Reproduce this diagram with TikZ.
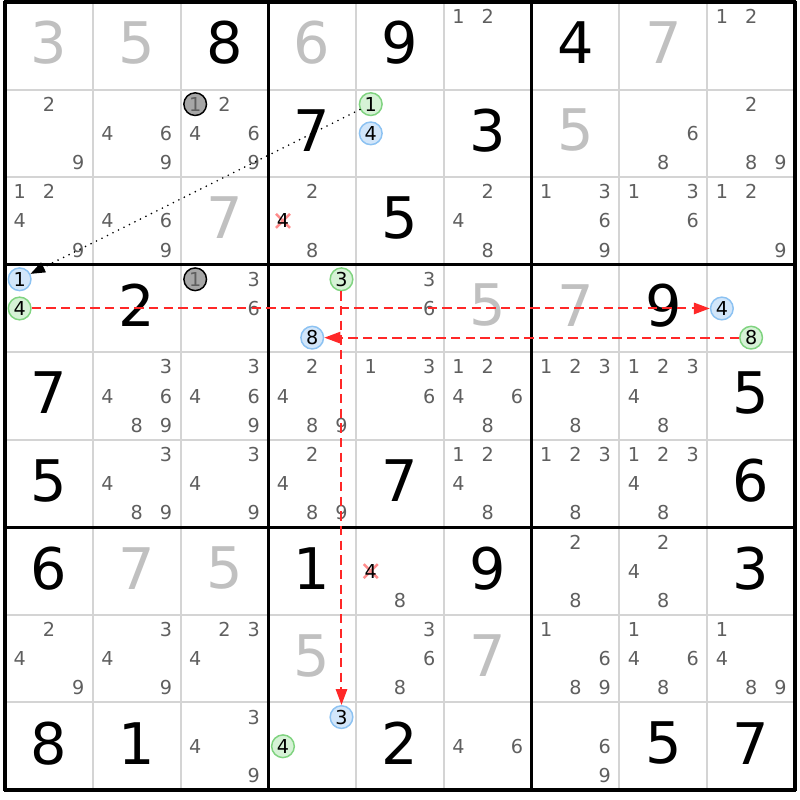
\documentclass[tikz,border=0pt]{standalone}
\usepackage{fontspec}
\setmainfont{DejaVu Sans}
\usetikzlibrary{arrows.meta}
\definecolor{placedc}{HTML}{C0C0C0}
\definecolor{candc}{HTML}{5F5F5F}
\definecolor{thinc}{HTML}{D4D4D4}
\definecolor{gfill}{HTML}{D6F2D6}
\definecolor{gline}{HTML}{7FD37F}
\definecolor{bfill}{HTML}{D2E6FA}
\definecolor{bline}{HTML}{8CC2F2}
\definecolor{kfill}{HTML}{A6A6A6}
\definecolor{xcol}{HTML}{FF8C8C}
\definecolor{chainc}{HTML}{FF2828}
\pgfdeclarelayer{bg}
\pgfsetlayers{bg,main}
\tikzset{
  bigdig/.style={font=\fontsize{43}{43}\selectfont, inner sep=0pt, text=black},
  placeddig/.style={bigdig, text=placedc},
  cand/.style={font=\fontsize{14.4}{14.4}\selectfont, inner sep=0pt, text=candc},
  gcirc/.style={cand, circle, draw=gline, fill=gfill, line width=1.1pt, text=black, minimum size=17pt},
  bcirc/.style={cand, circle, draw=bline, fill=bfill, line width=1.1pt, text=black, minimum size=17pt},
  kcirc/.style={cand, circle, draw=black, fill=kfill, line width=1.1pt, text=candc, minimum size=17pt},
  xcand/.style={cand, text=black},
  crossx/.style={draw=xcol, line width=1.8pt},
  thinline/.style={draw=thinc, line width=1.5pt},
  thickline/.style={draw=black, line width=2.4pt},
  chainarr/.style={draw=chainc, line width=1.5pt, dash pattern=on 7pt off 4pt,
    -{Triangle[length=12pt,width=8.5pt]}},
  linkdot/.style={draw=black, line width=1.4pt, line cap=round, dash pattern=on 0pt off 4.6pt,
    -{Triangle[length=11pt,width=8pt]}}
}
\newcommand\sdBig[4]{\node[#1] (r#2c#3) at ({5+(#3-0.5)*87.78},{2+(#2-0.5)*87.56-3}) {#4};}
\newcommand\sdCand[4][cand]{\node[#1] (r#2c#3n#4) at ({5+(#3-1)*87.78+(2*mod(#4-1,3)+1)*87.78/6},{2+(#2-1)*87.56+(2*int((#4-1)/3)+1)*87.56/6}) {#4};}
\newcommand\sdCands[3]{\foreach \dd in {#3}{\sdCand{#1}{#2}{\dd}}}
\begin{document}
\begin{tikzpicture}[x=0.75pt,y=-0.75pt]
\useasboundingbox (0,0) rectangle (800,800);
% grid
\foreach \i in {1,2,4,5,7,8}{
  \draw[thinline] ({5+\i*87.78},2) -- ({5+\i*87.78},790);
  \draw[thinline] (5,{2+\i*87.56}) -- (795,{2+\i*87.56});
}
\foreach \i in {0,3,6,9}{
  \draw[thickline] ({5+\i*87.78},0.8) -- ({5+\i*87.78},791.2);
  \draw[thickline] (3.8,{2+\i*87.56}) -- (796.2,{2+\i*87.56});
}
% givens
\sdBig{bigdig}{1}{3}{8}
\sdBig{bigdig}{1}{5}{9}
\sdBig{bigdig}{1}{7}{4}
\sdBig{bigdig}{2}{4}{7}
\sdBig{bigdig}{2}{6}{3}
\sdBig{bigdig}{3}{5}{5}
\sdBig{bigdig}{4}{2}{2}
\sdBig{bigdig}{4}{8}{9}
\sdBig{bigdig}{5}{1}{7}
\sdBig{bigdig}{5}{9}{5}
\sdBig{bigdig}{6}{1}{5}
\sdBig{bigdig}{6}{5}{7}
\sdBig{bigdig}{6}{9}{6}
\sdBig{bigdig}{7}{1}{6}
\sdBig{bigdig}{7}{4}{1}
\sdBig{bigdig}{7}{6}{9}
\sdBig{bigdig}{7}{9}{3}
\sdBig{bigdig}{9}{1}{8}
\sdBig{bigdig}{9}{2}{1}
\sdBig{bigdig}{9}{5}{2}
\sdBig{bigdig}{9}{8}{5}
\sdBig{bigdig}{9}{9}{7}
% placed
\sdBig{placeddig}{1}{1}{3}
\sdBig{placeddig}{1}{2}{5}
\sdBig{placeddig}{1}{4}{6}
\sdBig{placeddig}{1}{8}{7}
\sdBig{placeddig}{2}{7}{5}
\sdBig{placeddig}{3}{3}{7}
\sdBig{placeddig}{4}{6}{5}
\sdBig{placeddig}{4}{7}{7}
\sdBig{placeddig}{7}{2}{7}
\sdBig{placeddig}{7}{3}{5}
\sdBig{placeddig}{8}{4}{5}
\sdBig{placeddig}{8}{6}{7}
% candidates
\sdCands{1}{6}{1,2}
\sdCands{1}{9}{1,2}
\sdCands{2}{1}{2,9}
\sdCands{2}{2}{4,6,9}
\sdCand[kcirc]{2}{3}{1}
\sdCands{2}{3}{2,4,6,9}
\sdCand[gcirc]{2}{5}{1}
\sdCand[bcirc]{2}{5}{4}
\sdCands{2}{8}{6,8}
\sdCands{2}{9}{2,8,9}
\sdCands{3}{1}{1,2,4,9}
\sdCands{3}{2}{4,6,9}
\sdCands{3}{4}{2,8}
\sdCand[xcand]{3}{4}{4}
\sdCands{3}{6}{2,4,8}
\sdCands{3}{7}{1,3,6,9}
\sdCands{3}{8}{1,3,6}
\sdCands{3}{9}{1,2,9}
\sdCand[bcirc]{4}{1}{1}
\sdCand[gcirc]{4}{1}{4}
\sdCand[kcirc]{4}{3}{1}
\sdCands{4}{3}{3,6}
\sdCand[gcirc]{4}{4}{3}
\sdCand[bcirc]{4}{4}{8}
\sdCands{4}{5}{3,6}
\sdCand[bcirc]{4}{9}{4}
\sdCand[gcirc]{4}{9}{8}
\sdCands{5}{2}{3,4,6,8,9}
\sdCands{5}{3}{3,4,6,9}
\sdCands{5}{4}{2,4,8,9}
\sdCands{5}{5}{1,3,6}
\sdCands{5}{6}{1,2,4,6,8}
\sdCands{5}{7}{1,2,3,8}
\sdCands{5}{8}{1,2,3,4,8}
\sdCands{6}{2}{3,4,8,9}
\sdCands{6}{3}{3,4,9}
\sdCands{6}{4}{2,4,8,9}
\sdCands{6}{6}{1,2,4,8}
\sdCands{6}{7}{1,2,3,8}
\sdCands{6}{8}{1,2,3,4,8}
\sdCand[xcand]{7}{5}{4}
\sdCands{7}{5}{8}
\sdCands{7}{7}{2,8}
\sdCands{7}{8}{2,4,8}
\sdCands{8}{1}{2,4,9}
\sdCands{8}{2}{3,4,9}
\sdCands{8}{3}{2,3,4}
\sdCands{8}{5}{3,6,8}
\sdCands{8}{7}{1,6,8,9}
\sdCands{8}{8}{1,4,6,8}
\sdCands{8}{9}{1,4,8,9}
\sdCands{9}{3}{3,4,9}
\sdCand[bcirc]{9}{4}{3}
\sdCand[gcirc]{9}{4}{4}
\sdCands{9}{6}{4,6}
\sdCands{9}{7}{6,9}
% crosses (behind the crossed digits)
\begin{pgfonlayer}{bg}
\fill[white] (0,0) rectangle (800,800);
\draw[crossx] (r3c4n4.center) +(-7,-7) -- +(7,7) +(-7,7) -- +(7,-7);
\draw[crossx] (r7c5n4.center) +(-7,-7) -- +(7,7) +(-7,7) -- +(7,-7);
\end{pgfonlayer}
% links
\draw[linkdot] (r2c5n1) -- (r4c1n1);
\draw[chainarr] (r4c1n4) -- (r4c9n4);
\draw[chainarr] (r4c9n8) -- (r4c4n8);
\draw[chainarr] (r4c4n3) -- (r9c4n3);
\end{tikzpicture}
\end{document}
